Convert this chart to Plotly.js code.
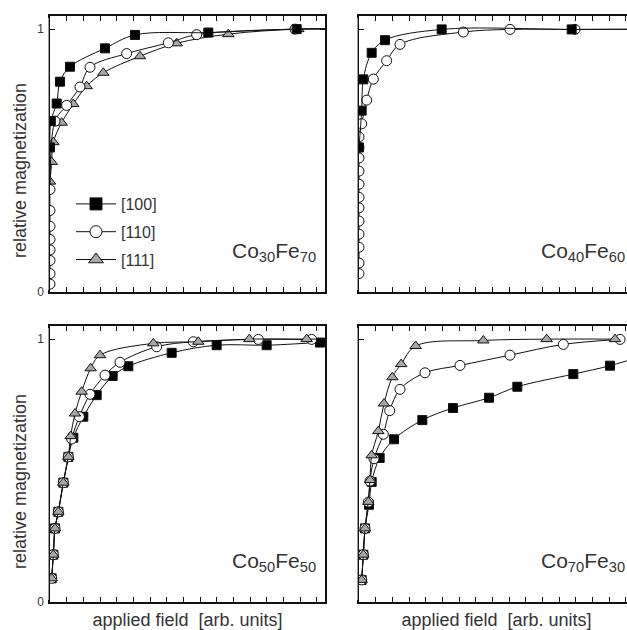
<!DOCTYPE html>
<html>
<head>
<meta charset="utf-8">
<script src="https://cdn.plot.ly/plotly-3.0.1.min.js"></script>
<style>
html, body { margin: 0; padding: 0; overflow: hidden; background: #fff; }
#chart { width: 645px; height: 630px; }
</style>
</head>
<body>
<div id="chart"></div>
<script>
// ---- data (applied field in arb. units, relative magnetization) ----
const seriesNames = ["[100]", "[110]", "[111]"];
const panelLabels = ["Co<sub>30</sub>Fe<sub>70</sub>", "Co<sub>40</sub>Fe<sub>60</sub>",
                     "Co<sub>50</sub>Fe<sub>50</sub>", "Co<sub>70</sub>Fe<sub>30</sub>"];

// Co30Fe70
const co30_100_x = [0, 0.05, 0.4, 0.6, 1.2, 3.3, 5.1, 9.5, 14.8, 18];
const co30_100_y = [0.55, 0.65, 0.717, 0.80, 0.857, 0.927, 0.978, 0.987, 1.0, 1.0];
const co30_110_x = [0, 0, 0, 0, 0, 0, 0, 0, 0.3, 1.0, 1.8, 2.4, 4.6, 7.1, 8.8, 14.7, 18];
const co30_110_y = [0.03, 0.07, 0.12, 0.16, 0.20, 0.25, 0.31, 0.39, 0.65, 0.71, 0.78, 0.855, 0.907, 0.948, 0.979, 1.0, 1.0];
const co30_111_x = [0, 0.1, 0.2, 0.7, 1.4, 2.2, 3.2, 5.4, 7.6, 10.7, 14.9, 18];
const co30_111_y = [0.42, 0.495, 0.57, 0.644, 0.715, 0.783, 0.834, 0.897, 0.946, 0.981, 1.0, 1.0];

// Co40Fe60
const co40_100_x = [0, 0.16, 0.26, 0.76, 1.56, 4.96, 12.76, 18];
const co40_100_y = [0.55, 0.69, 0.809, 0.91, 0.958, 0.999, 0.999, 1.0];
const co40_110_x = [0, 0, 0, 0, 0, 0, 0, 0, 0, 0, 0, 0, 0.16, 0.46, 0.86, 1.66, 2.46, 6.26, 9.06, 12.96, 18];
const co40_110_y = [0.07, 0.11, 0.17, 0.22, 0.27, 0.32, 0.36, 0.41, 0.46, 0.51, 0.55, 0.59, 0.64, 0.73, 0.81, 0.88, 0.942, 0.989, 0.999, 0.999, 1.0];

// Co50Fe50
const co50_100_x = [0.1, 0.2, 0.3, 0.5, 0.8, 1.1, 1.4, 2.0, 2.8, 3.76, 4.7, 7.3, 10.0, 13.0, 16.2, 18];
const co50_100_y = [0.09, 0.18, 0.28, 0.343, 0.454, 0.552, 0.625, 0.705, 0.787, 0.86, 0.897, 0.948, 0.977, 0.977, 0.987, 0.99];
const co50_110_x = [0.1, 0.2, 0.3, 0.5, 0.8, 1.1, 1.3, 1.76, 2.4, 3.3, 4.2, 6.4, 8.6, 12.5, 15.7, 18];
const co50_110_y = [0.09, 0.18, 0.28, 0.343, 0.454, 0.552, 0.62, 0.705, 0.79, 0.863, 0.912, 0.971, 0.99, 0.999, 0.999, 1.0];
const co50_111_x = [0.1, 0.2, 0.3, 0.5, 0.8, 1.1, 1.24, 1.5, 1.9, 2.44, 3.0, 6.2, 8.9, 11.96, 15.4, 18];
const co50_111_y = [0.09, 0.18, 0.28, 0.343, 0.454, 0.552, 0.631, 0.717, 0.80, 0.889, 0.939, 0.984, 0.99, 1.0, 1.0, 1.0];

// Co70Fe30
const co70_100_x = [0.16, 0.26, 0.36, 0.6, 0.76, 1.24, 2.1, 3.8, 5.64, 7.8, 9.5, 12.86, 15.06, 17.2];
const co70_100_y = [0.084, 0.18, 0.28, 0.37, 0.457, 0.548, 0.619, 0.692, 0.738, 0.777, 0.819, 0.867, 0.899, 0.94];
const co70_110_x = [0.16, 0.26, 0.36, 0.56, 0.66, 0.9, 1.46, 1.84, 2.46, 3.96, 6.06, 9.06, 12.26, 15.66];
const co70_110_y = [0.084, 0.18, 0.28, 0.38, 0.46, 0.545, 0.638, 0.728, 0.809, 0.872, 0.9, 0.939, 0.98, 0.999];
const co70_111_x = [0.16, 0.26, 0.36, 0.56, 0.66, 0.76, 1.16, 1.5, 2.0, 2.53, 3.4, 7.46, 11.26, 15.36];
const co70_111_y = [0.084, 0.18, 0.28, 0.381, 0.464, 0.558, 0.65, 0.755, 0.855, 0.905, 0.974, 0.995, 1.0, 1.0];

// ---- styles ----
const styles = {
  "[100]": { symbol: "square", color: "#000000", size: 9, lsize: 12 },
  "[110]": { symbol: "circle", color: "#ffffff", size: 10, lsize: 12 },
  "[111]": { symbol: "triangle-up", color: "#a6a6a6", size: 10, lsize: 13 }
};

function curve(name, xs, ys, ax) {
  const s = styles[name];
  return {
    type: "scatter", mode: "lines+markers", name: name, showlegend: false,
    x: xs, y: ys, xaxis: "x" + ax, yaxis: "y" + ax, cliponaxis: true,
    line: { color: "#111", width: 1, shape: "spline", smoothing: 1 },
    marker: { symbol: s.symbol, size: s.size, color: s.color, line: { color: "#111", width: 1 } },
    hoverinfo: "skip"
  };
}
function legendEntry(name) {
  const s = styles[name];
  return {
    type: "scatter", mode: "lines+markers", name: name, showlegend: true,
    legendgroup: name, x: [null], y: [null], xaxis: "x", yaxis: "y",
    line: { color: "#111", width: 1 },
    marker: { symbol: s.symbol, size: s.lsize, color: s.color, line: { color: "#111", width: 1 } }
  };
}

const traces = [
  curve("[111]", co30_111_x, co30_111_y, ""),
  curve("[110]", co30_110_x, co30_110_y, ""),
  curve("[100]", co30_100_x, co30_100_y, ""),
  curve("[110]", co40_110_x, co40_110_y, "2"),
  curve("[100]", co40_100_x, co40_100_y, "2"),
  curve("[100]", co50_100_x, co50_100_y, "3"),
  curve("[110]", co50_110_x, co50_110_y, "3"),
  curve("[111]", co50_111_x, co50_111_y, "3"),
  curve("[100]", co70_100_x, co70_100_y, "4"),
  curve("[110]", co70_110_x, co70_110_y, "4"),
  curve("[111]", co70_111_x, co70_111_y, "4"),
  legendEntry("[100]"), legendEntry("[110]"), legendEntry("[111]")
];

const W = 645, H = 630;
const colL = [50 / W, 325 / W], colR = [359 / W, 634 / W];
const rowT = [1 - 292 / H, 1 - 16 / H], rowB = [1 - 602 / H, 1 - 326 / H];
const txt = { family: "Liberation Sans, Arial, sans-serif", color: "#333" };

function xax(dom, anchor, withTitle) {
  const a = {
    domain: dom, anchor: anchor, range: [0, 16.5], tick0: 0, dtick: 1,
    ticks: "inside", ticklen: 5, tickwidth: 1, tickcolor: "#111",
    showticklabels: false, showline: true, linecolor: "#111", linewidth: 1.5,
    mirror: "ticks", showgrid: false, zeroline: false, fixedrange: true
  };
  if (withTitle) a.title = { text: "applied field  [arb. units]", font: Object.assign({ size: 18 }, txt), standoff: 14 };
  return a;
}
function yax(dom, anchor, withLabels) {
  return {
    domain: dom, anchor: anchor, range: [0, 1.05], tickvals: [0, 1], ticktext: ["0", "1"],
    ticks: "inside", ticklen: 5, tickwidth: 1, tickcolor: "#111",
    showticklabels: withLabels, tickfont: Object.assign({ size: 12 }, txt),
    ticklabelstandoff: 2,
    showline: true, linecolor: "#111", linewidth: 1.5,
    mirror: "ticks", showgrid: false, zeroline: false, fixedrange: true
  };
}

const annotations = [];
const refs = ["", "2", "3", "4"];
refs.forEach((r, i) => {
  annotations.push({
    text: panelLabels[i], xref: "x" + r + " domain", yref: "y" + r + " domain",
    x: 0.975, y: 0.09, xanchor: "right", yanchor: "bottom", showarrow: false,
    font: Object.assign({ size: 21 }, txt)
  });
});
[[rowT, 171], [rowB, 482]].forEach(([row, cy]) => {
  annotations.push({
    text: "relative magnetization", textangle: -90, xref: "paper", yref: "paper",
    x: 20 / W, y: 1 - cy / H, xanchor: "center", yanchor: "middle", showarrow: false,
    font: Object.assign({ size: 18 }, txt)
  });
});

// white masks just outside each left axis line, so marks at zero field show only their inner half
const shapes = [];
[[colL, rowT], [colR, rowT], [colL, rowB], [colR, rowB]].forEach(([c, r]) => {
  const left = c[0] * W;
  shapes.push({
    type: "rect", xref: "paper", yref: "paper", layer: "above",
    x0: (left - 6) / W, x1: (left - 1.4) / W,
    y0: r[0] + 2 / H, y1: r[1] - 2 / H,
    fillcolor: "#ffffff", line: { width: 0 }
  });
});

const layout = {
  width: W, height: H, margin: { l: 0, r: 0, t: 0, b: 0 },
  paper_bgcolor: "#fff", plot_bgcolor: "#fff", showlegend: true,
  xaxis: xax(colL, "y", false), yaxis: yax(rowT, "x", true),
  xaxis2: xax(colR, "y2", false), yaxis2: yax(rowT, "x2", false),
  xaxis3: xax(colL, "y3", true), yaxis3: yax(rowB, "x3", true),
  xaxis4: xax(colR, "y4", true), yaxis4: yax(rowB, "x4", false),
  legend: {
    x: 71 / W, y: 1 - 187 / H, xanchor: "left", yanchor: "top",
    bgcolor: "rgba(0,0,0,0)", borderwidth: 0, traceorder: "grouped", tracegroupgap: 4,
    itemwidth: 40, font: Object.assign({ size: 16 }, txt)
  },
  shapes: shapes,
  annotations: annotations
};

Plotly.newPlot("chart", traces, layout, { displayModeBar: false });
</script>
</body>
</html>
